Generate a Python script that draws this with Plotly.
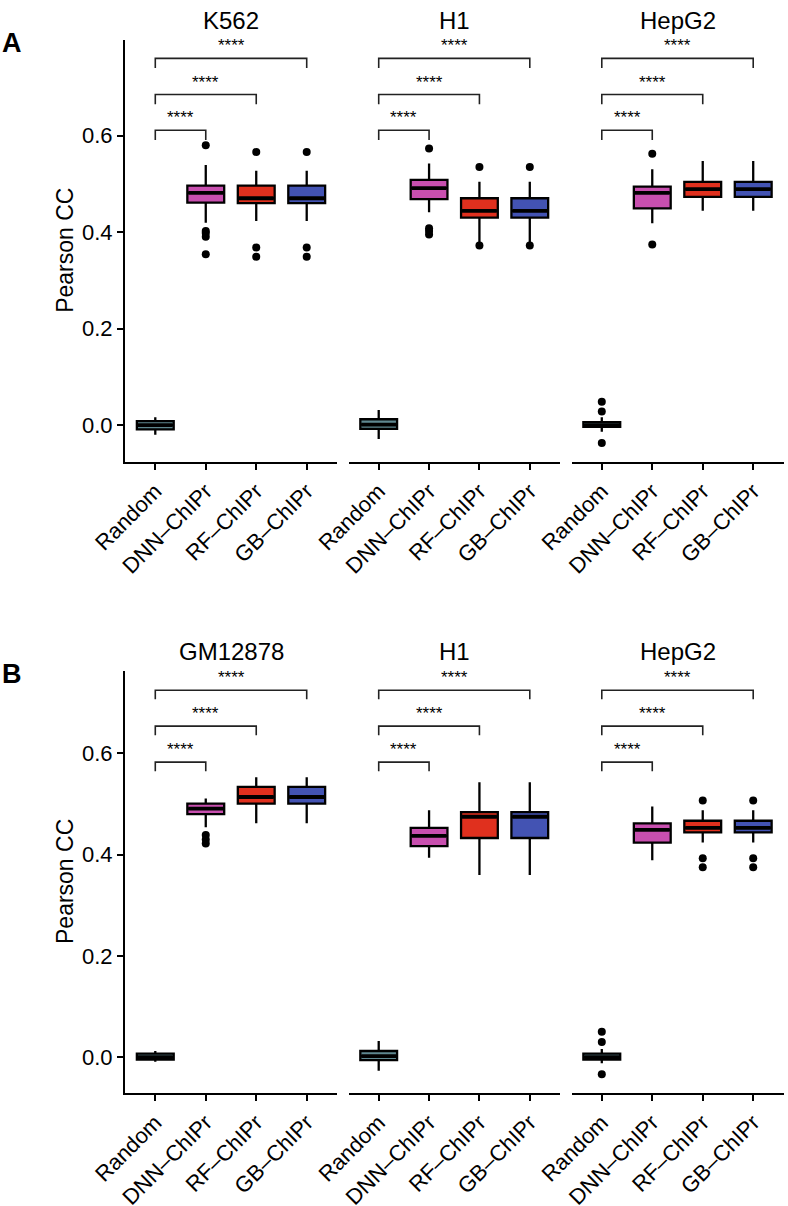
import plotly.graph_objects as go

# ---------------- data ----------------
categories = ["Random", "DNN–ChIPr", "RF–ChIPr", "GB–ChIPr"]
fill_colors = ["#5F8890", "#C84FAF", "#E0301E", "#4353B3"]

titles_A = ["K562", "H1", "HepG2"]
titles_B = ["GM12878", "H1", "HepG2"]

# box statistics, per panel (rows) x category (cols)
lo_A = [[-0.020, 0.419, 0.423, 0.423],
        [-0.029, 0.441, 0.376, 0.376],
        [-0.014, 0.418, 0.444, 0.444]]
q1_A = [[-0.009, 0.461, 0.460, 0.460],
        [-0.008, 0.468, 0.430, 0.430],
        [-0.004, 0.449, 0.473, 0.473]]
med_A = [[0.000, 0.481, 0.470, 0.470],
         [0.001, 0.491, 0.444, 0.444],
         [0.000, 0.481, 0.489, 0.489]]
q3_A = [[0.008, 0.496, 0.496, 0.496],
        [0.012, 0.508, 0.470, 0.470],
        [0.006, 0.494, 0.504, 0.504]]
hi_A = [[0.016, 0.539, 0.527, 0.527],
        [0.031, 0.542, 0.504, 0.504],
        [0.016, 0.530, 0.547, 0.547]]
out_A = [[[], [0.580, 0.402, 0.398, 0.390, 0.354], [0.566, 0.368, 0.349], [0.566, 0.368, 0.349]],
         [[], [0.573, 0.408, 0.402, 0.395], [0.535, 0.372], [0.535, 0.372]],
         [[0.048, 0.028, -0.037], [0.562, 0.374], [], []]]

lo_B = [[-0.009, 0.454, 0.462, 0.462],
        [-0.027, 0.394, 0.360, 0.360],
        [-0.012, 0.389, 0.424, 0.424]]
q1_B = [[-0.005, 0.480, 0.501, 0.501],
        [-0.006, 0.417, 0.433, 0.433],
        [-0.005, 0.424, 0.444, 0.444]]
med_B = [[0.000, 0.491, 0.514, 0.514],
         [0.002, 0.437, 0.475, 0.475],
         [0.000, 0.449, 0.453, 0.453]]
q3_B = [[0.007, 0.501, 0.534, 0.534],
        [0.012, 0.453, 0.484, 0.484],
        [0.007, 0.462, 0.467, 0.467]]
hi_B = [[0.012, 0.511, 0.553, 0.553],
        [0.032, 0.488, 0.543, 0.543],
        [0.016, 0.495, 0.488, 0.488]]
out_B = [[[], [0.439, 0.430, 0.422], [], []],
         [[], [], [], []],
         [[0.050, 0.030, -0.034], [], [0.507, 0.393, 0.375], [0.507, 0.393, 0.375]]]

sig_label = "****"
sig_levels_A = [0.611, 0.685, 0.760]
sig_levels_B = [0.583, 0.654, 0.725]

y_ticks = [0.0, 0.2, 0.4, 0.6]

# ---------------- layout geometry ----------------
W, H = 788, 1206
panel_px = [(125, 337), (348.5, 560), (571.5, 783.5)]
rows = [
    dict(top=40, bottom=461.7, yr=[-0.076, 0.798], tip=0.020, letter="A",
         titles=titles_A, lo=lo_A, q1=q1_A, med=med_A, q3=q3_A, hi=hi_A, out=out_A,
         sig=sig_levels_A),
    dict(top=671, bottom=1093, yr=[-0.071, 0.763], tip=0.018, letter="B",
         titles=titles_B, lo=lo_B, q1=q1_B, med=med_B, q3=q3_B, hi=hi_B, out=out_B,
         sig=sig_levels_B),
]

FONT = "Liberation Sans, Arial, Helvetica, sans-serif"
BOX_W = 0.73

fig = go.Figure()
layout = dict(width=W, height=H, margin=dict(l=0, r=0, t=0, b=0),
              paper_bgcolor="white", plot_bgcolor="white", showlegend=False,
              font=dict(family=FONT, color="black"))
annotations = []

k = 0
for r, row in enumerate(rows):
    ydom = [1 - row["bottom"] / H, 1 - row["top"] / H]
    for p in range(3):
        k += 1
        xa = "x" if k == 1 else f"x{k}"
        ya = "y" if k == 1 else f"y{k}"
        xkey = "xaxis" if k == 1 else f"xaxis{k}"
        ykey = "yaxis" if k == 1 else f"yaxis{k}"
        x0, x1 = panel_px[p]
        layout[xkey] = dict(domain=[x0 / W, x1 / W], anchor=ya, range=[-0.6, 3.6],
                            tickvals=list(range(len(categories))), ticktext=categories,
                            tickangle=-45, showline=True, linecolor="black", linewidth=2,
                            ticks="outside", ticklen=6, tickwidth=2, tickcolor="black",
                            showgrid=False, zeroline=False, automargin=False,
                            tickfont=dict(size=22, family=FONT, color="black"),
                            fixedrange=True)
        ydict = dict(domain=ydom, anchor=xa, range=row["yr"], showgrid=False,
                     zeroline=False, automargin=False, fixedrange=True)
        if p == 0:
            ydict.update(showline=True, linecolor="black", linewidth=2,
                         ticks="outside", ticklen=6, tickwidth=2, tickcolor="black",
                         tickvals=y_ticks, tickformat=".1f",
                         tickfont=dict(size=22, family=FONT, color="black"))
        else:
            ydict.update(visible=False)
        layout[ykey] = ydict

        # boxes
        for c in range(len(categories)):
            fig.add_trace(go.Box(
                x=[c], q1=[row["q1"][p][c]], median=[row["med"][p][c]],
                q3=[row["q3"][p][c]], lowerfence=[row["lo"][p][c]],
                upperfence=[row["hi"][p][c]], width=BOX_W, whiskerwidth=0,
                fillcolor=fill_colors[c], line=dict(color="black", width=2.3),
                boxpoints=False, hoverinfo="skip", xaxis=xa, yaxis=ya))
            # thick median line (ggplot fatten)
            fig.add_trace(go.Scatter(
                x=[c - BOX_W / 2 + 0.02, c + BOX_W / 2 - 0.02],
                y=[row["med"][p][c]] * 2, mode="lines",
                line=dict(color="black", width=3.8), hoverinfo="skip",
                xaxis=xa, yaxis=ya))
            if row["out"][p][c]:
                fig.add_trace(go.Scatter(
                    x=[c] * len(row["out"][p][c]), y=row["out"][p][c], mode="markers",
                    marker=dict(color="black", size=8), hoverinfo="skip",
                    xaxis=xa, yaxis=ya))

        # significance brackets
        for j, lvl in enumerate(row["sig"]):
            xs = [0, 0, j + 1, j + 1]
            ys = [lvl - row["tip"], lvl, lvl, lvl - row["tip"]]
            fig.add_trace(go.Scatter(x=xs, y=ys, mode="lines",
                                     line=dict(color="#222222", width=1.6),
                                     hoverinfo="skip", xaxis=xa, yaxis=ya))
            annotations.append(dict(x=(j + 1) / 2, y=lvl, xref=xa, yref=ya,
                                    text=sig_label, showarrow=False,
                                    xanchor="center", yanchor="bottom",
                                    yshift=1, font=dict(size=17, family=FONT, color="black")))

        # facet title
        annotations.append(dict(x=(x0 + x1) / 2 / W, y=1 - (row["top"] - 20) / H,
                                xref="paper", yref="paper", text=row["titles"][p],
                                showarrow=False, xanchor="center", yanchor="middle",
                                font=dict(size=24, family=FONT, color="black")))

    # y-axis title
    annotations.append(dict(x=65 / W, y=1 - (row["top"] + row["bottom"]) / 2 / H,
                            xref="paper", yref="paper", text="Pearson CC", textangle=-90,
                            xanchor="center", yanchor="middle",
                            showarrow=False, font=dict(size=23, family=FONT, color="black")))
    # panel letter
    annotations.append(dict(x=0 / W, y=1 - (row["top"] + 3) / H, xref="paper", yref="paper",
                            text=f"<b>{row['letter']}</b>", showarrow=False,
                            xanchor="left", yanchor="middle",
                            font=dict(size=27, family=FONT, color="black")))

layout["annotations"] = annotations
fig.update_layout(**layout)
fig.write_html("out.html", config={"displayModeBar": False},
               post_script="document.body.style.margin='0';document.body.style.overflow='hidden';")
